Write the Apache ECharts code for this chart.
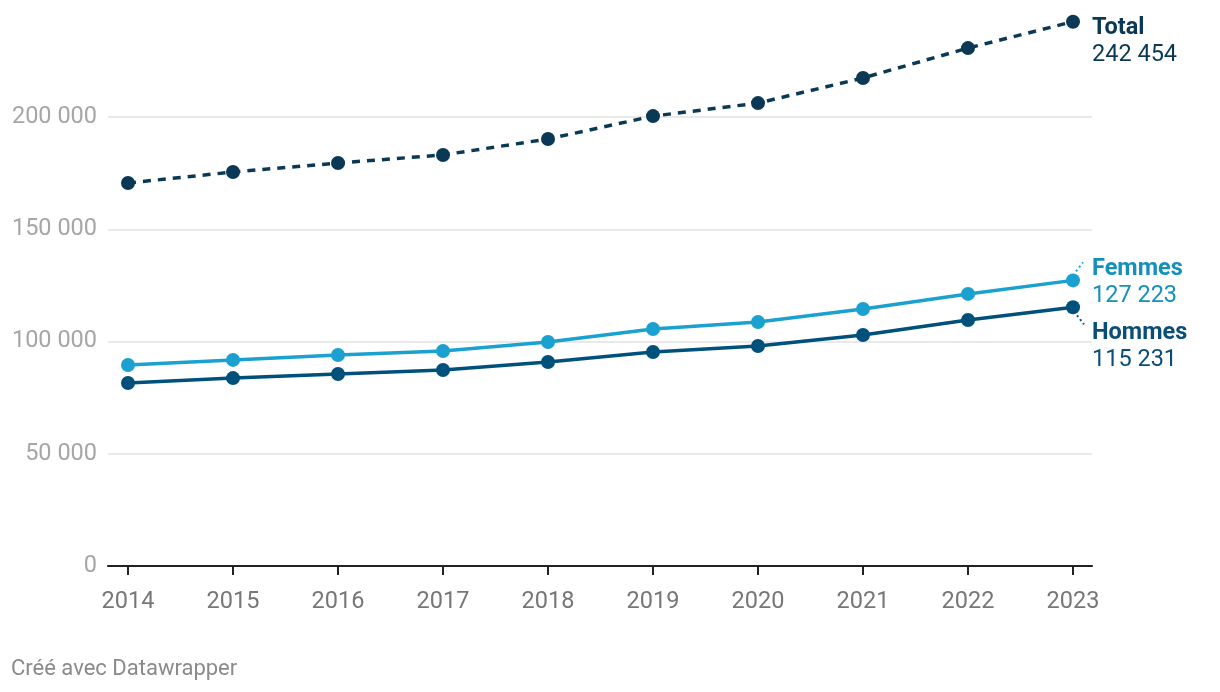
<!DOCTYPE html>
<html><head><meta charset="utf-8">
<script src="https://cdn.jsdelivr.net/npm/echarts@6/dist/echarts.min.js"></script>
<style>html,body{margin:0;padding:0;background:#fff}#c{width:1220px;height:692px}</style>
</head><body><div id="c"></div>
<script>
const years = [2014,2015,2016,2017,2018,2019,2020,2021,2022,2023];
const total = [170600,175500,179500,183100,190200,200400,206200,217400,230700,242454];
const femmes = [89500,91800,94000,95800,99800,105600,108700,114500,121200,127223];
const hommes = [81500,83700,85500,87300,90900,95300,98000,102900,109600,115231];
const yTicks = [0,50000,100000,150000,200000];
const footer = 'Créé avec Datawrapper';

const FONT = 'Roboto';
const FS = 23.5;
const fmt = v => String(v).replace(/\B(?=(\d{3})+(?!\d))/g, ' ');
const pairs = arr => arr.map((v,i)=>[years[i], v]);

function mkSeries(name, arr, color, labelColor, dashed, dy){
  const data = pairs(arr).map((p,i)=>{
    if(i !== arr.length-1) return p;
    return {value:p, label:{show:true, position:'right', distance:12,
      formatter: '{b|'+name+'}\n{v|'+fmt(arr[i])+'}',
      rich:{b:{fontFamily:FONT,fontSize:FS,fontWeight:'bold',color:labelColor,lineHeight:27},
            v:{fontFamily:FONT,fontSize:FS,color:labelColor,lineHeight:27}}}};
  });
  return {name, type:'line', data, symbol:'circle', symbolSize:14,
    itemStyle:{color:color}, lineStyle:{color:color, width:3.5, type: dashed ? [8,7] : 'solid'},
    label:{show:false},
    labelLayout: p => (p.dataIndex === arr.length-1 ? {dy: dy} : {}),
    emphasis:{disabled:true}, animation:false, z: dashed?3:2};
}

const chart = echarts.init(document.getElementById('c'), null, {renderer:'canvas'});
const option = {
  animation:false,
  grid:{left:108, right:128, top:4.75, bottom:126, containLabel:false},
  xAxis:{type:'value', min:2014-20/105, max:2023+19/105,
    axisLine:{show:true, onZero:false, lineStyle:{color:'#222', width:2}},
    axisTick:{show:true, customValues:years, length:9, lineStyle:{color:'#222', width:2}},
    axisLabel:{customValues:years, color:'#777', fontFamily:FONT, fontSize:FS, margin:24, formatter:v=>String(v)},
    splitLine:{show:false}},
  yAxis:{type:'value', min:0, max:250000, interval:50000,
    axisLine:{show:false}, axisTick:{show:false},
    axisLabel:{color:'#a6a6a6', fontFamily:FONT, fontSize:FS, margin:11, showMaxLabel:false,
      formatter:v=>fmt(v)},
    splitLine:{show:true, showMinLine:false, showMaxLine:false, lineStyle:{color:'#e2e2e2', width:1.5}}},
  series:[
    mkSeries('Hommes', hommes, '#00507c', '#0a4e78', false, 39),
    mkSeries('Femmes', femmes, '#1ba1cf', '#1590bd', false, 2),
    mkSeries('Total', total, '#0b3955', '#0b3955', true, 20)
  ]
};
chart.setOption(option);

// leader lines, anchored to the last data point of each series
const last = years.length - 1;
const pF = chart.convertToPixel({gridIndex:0}, [years[last], femmes[last]]);
const pH = chart.convertToPixel({gridIndex:0}, [years[last], hommes[last]]);
chart.setOption({graphic:[
  {type:'line', shape:{x1:pF[0]+3, y1:pF[1]-9, x2:pF[0]+10, y2:pF[1]-18}, style:{stroke:'#1ba1cf', lineWidth:2, lineDash:[2,3]}},
  {type:'line', shape:{x1:pH[0]+4, y1:pH[1]+8, x2:pH[0]+11, y2:pH[1]+17}, style:{stroke:'#00507c', lineWidth:2, lineDash:[2,3]}},
  {type:'text', left:11, top:658, style:{text:footer, fill:'#8a8a8a', font:'22px Roboto'}}
]});
</script></body></html>
